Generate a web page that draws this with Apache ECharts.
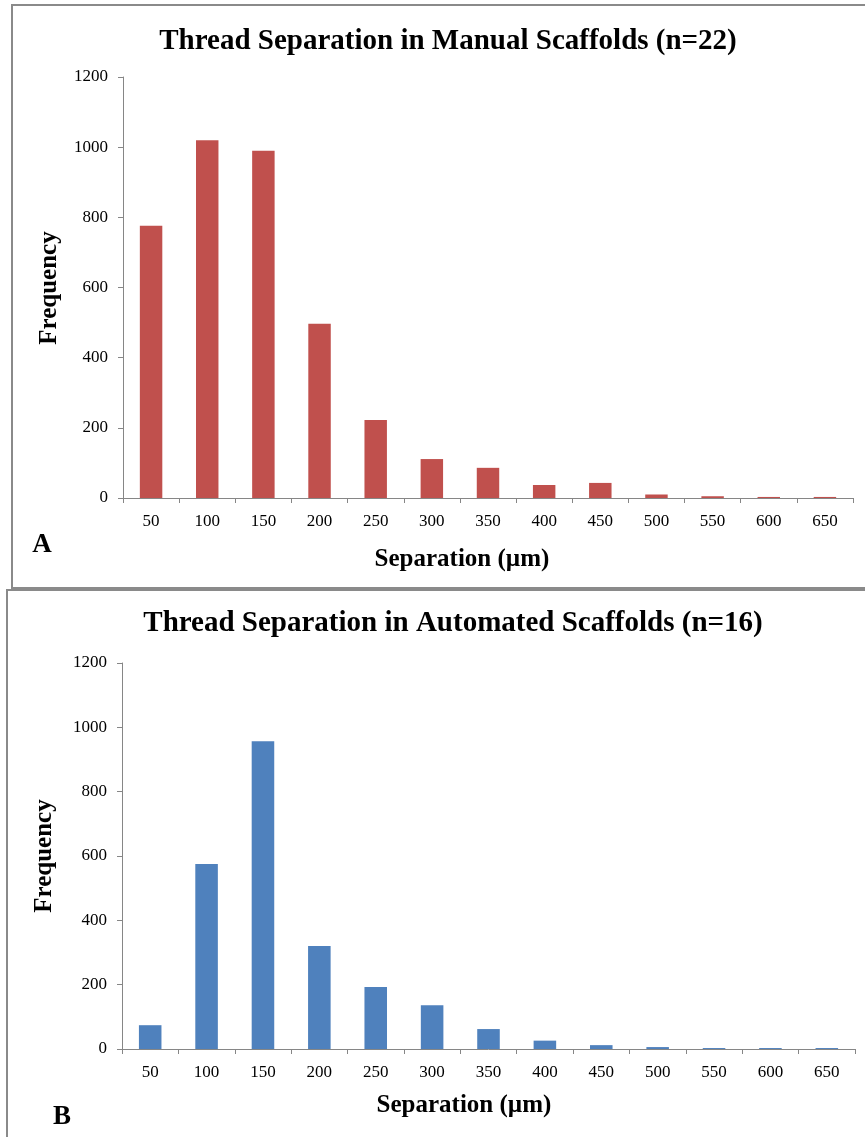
<!DOCTYPE html>
<html>
<head>
<meta charset="utf-8">
<script src="https://cdn.jsdelivr.net/npm/echarts@6/dist/echarts.min.js"></script>
<style>
  html, body { margin: 0; padding: 0; background: #fff; }
  #chart { width: 865px; height: 1137px; }
</style>
</head>
<body>
<div id="chart"></div>
<script>
// Bin labels (µm) shared by both histograms
const separationBins = ['50', '100', '150', '200', '250', '300', '350', '400', '450', '500', '550', '600', '650'];
// Counts per bin, manual scaffolds (n=22)
const manualCounts = [776, 1020, 990, 497, 222, 111, 86, 37, 43, 10, 5, 3, 3];
// Counts per bin, automated scaffolds (n=16)
const automatedCounts = [74, 575, 957, 320, 193, 136, 62, 26, 12, 6, 3, 3, 3];
const yTicks = [0, 200, 400, 600, 800, 1000, 1200];

const serif = '"Liberation Serif", "Times New Roman", serif';
const axisGrey = '#868686';

function xAxisFor(gridIndex) {
  return {
    type: 'category',
    gridIndex: gridIndex,
    data: separationBins,
    axisLine: { lineStyle: { color: axisGrey, width: 1 } },
    axisTick: { show: true, length: 5, lineStyle: { color: axisGrey } },
    axisLabel: { color: '#000', fontFamily: serif, fontSize: 17, margin: 15 }
  };
}
function yAxisFor(gridIndex) {
  return {
    type: 'value',
    gridIndex: gridIndex,
    min: yTicks[0],
    max: yTicks[yTicks.length - 1],
    interval: yTicks[1] - yTicks[0],
    splitLine: { show: false },
    axisLine: { show: true, lineStyle: { color: axisGrey, width: 1 } },
    axisTick: { show: true, length: 5, lineStyle: { color: axisGrey } },
    axisLabel: { color: '#000', fontFamily: serif, fontSize: 17, margin: 15, formatter: v => String(v) }
  };
}

const titleStyle = { fontFamily: serif, fontWeight: 'bold', fontSize: 29, color: '#000' };
const labelStyle = { fontFamily: serif, fontWeight: 'bold', fontSize: 25, fill: '#000' };

const chart = echarts.init(document.getElementById('chart'), null, { renderer: 'canvas' });
chart.setOption({
  animation: false,
  backgroundColor: '#fff',
  title: [
    { text: 'Thread Separation in Manual Scaffolds (n=22)', left: 443, top: 22, textAlign: 'center', textStyle: titleStyle },
    { text: 'Thread Separation in Automated Scaffolds (n=16)', left: 448, top: 604, textAlign: 'center', textStyle: titleStyle }
  ],
  grid: [
    { left: 123, top: 77, right: 12, height: 421 },
    { left: 122, top: 663, right: 10, height: 386 }
  ],
  xAxis: [xAxisFor(0), xAxisFor(1)],
  yAxis: [yAxisFor(0), yAxisFor(1)],
  series: [
    {
      type: 'bar', xAxisIndex: 0, yAxisIndex: 0, data: manualCounts,
      barWidth: '40%', itemStyle: { color: '#C0504D' }
    },
    {
      type: 'bar', xAxisIndex: 1, yAxisIndex: 1, data: automatedCounts,
      barWidth: '40%', itemStyle: { color: '#4F81BD' }
    }
  ],
  graphic: [
    // panel frames
    { type: 'polyline', shape: { points: [[12, 589], [12, 5], [866, 5]] }, style: { stroke: '#8a8a8a', lineWidth: 2, fill: null } },
    { type: 'line', shape: { x1: 12, y1: 588, x2: 866, y2: 588 }, style: { stroke: '#8a8a8a', lineWidth: 2 } },
    { type: 'polyline', shape: { points: [[7, 1140], [7, 590], [866, 590]] }, style: { stroke: '#8a8a8a', lineWidth: 2, fill: null } },
    // axis titles
    { type: 'text', x: 50, y: 288, rotation: Math.PI / 2, style: Object.assign({ text: 'Frequency', align: 'center', verticalAlign: 'middle' }, labelStyle) },
    { type: 'text', x: 45, y: 856, rotation: Math.PI / 2, style: Object.assign({ text: 'Frequency', align: 'center', verticalAlign: 'middle' }, labelStyle) },
    { type: 'text', x: 462, y: 560, style: Object.assign({ text: 'Separation (µm)', align: 'center', verticalAlign: 'middle' }, labelStyle) },
    { type: 'text', x: 464, y: 1106, style: Object.assign({ text: 'Separation (µm)', align: 'center', verticalAlign: 'middle' }, labelStyle) },
    // panel letters
    { type: 'text', x: 42, y: 545, style: Object.assign({}, labelStyle, { text: 'A', fontSize: 27, align: 'center', verticalAlign: 'middle' }) },
    { type: 'text', x: 62, y: 1117, style: Object.assign({}, labelStyle, { text: 'B', fontSize: 27, align: 'center', verticalAlign: 'middle' }) }
  ]
});
</script>
</body>
</html>
